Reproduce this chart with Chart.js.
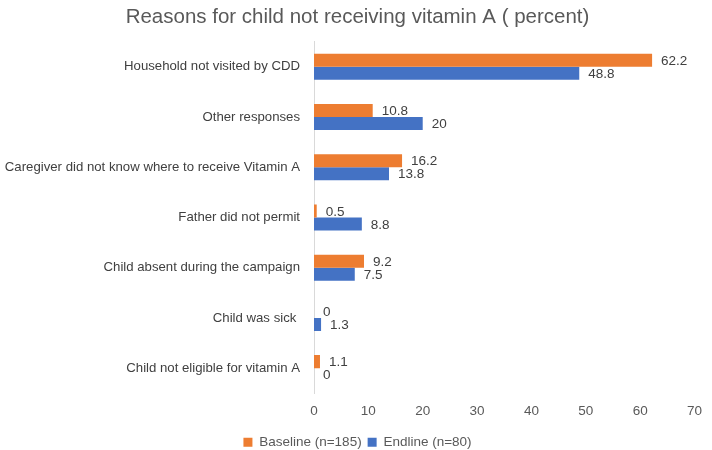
<!DOCTYPE html>
<html>
<head>
<meta charset="utf-8">
<script src="https://cdn.jsdelivr.net/npm/chart.js@4/dist/chart.umd.min.js"></script>
<style>
  html, body { margin: 0; padding: 0; background: #fff; }
  #wrap { width: 712px; height: 450px; }
</style>
</head>
<body>
<div id="wrap"><canvas id="chart"></canvas></div>
<script>
const categories = [
  "Household not visited by CDD",
  "Other responses",
  "Caregiver did not know where to receive Vitamin A",
  "Father did not permit",
  "Child absent during the campaign",
  "Child was sick ",
  "Child not eligible for vitamin A"
];
const baseline = [62.2, 10.8, 16.2, 0.5, 9.2, 0, 1.1];
const endline = [48.8, 20, 13.8, 8.8, 7.5, 1.3, 0];
const xTicks = [0, 10, 20, 30, 40, 50, 60, 70];

const fontFamily = "'Liberation Sans', Arial, sans-serif";

// draws the value next to the end of each bar
const barLabels = {
  id: "barLabels",
  afterDatasetsDraw(chart) {
    const ctx = chart.ctx;
    ctx.save();
    ctx.font = "13.5px " + fontFamily;
    ctx.fillStyle = "#404040";
    ctx.textAlign = "left";
    ctx.textBaseline = "middle";
    chart.data.datasets.forEach((ds, i) => {
      const meta = chart.getDatasetMeta(i);
      meta.data.forEach((bar, j) => {
        ctx.fillText(String(ds.data[j]), bar.x + 9, bar.y + 1);
      });
    });
    ctx.restore();
  }
};

const ctx = document.getElementById("chart").getContext("2d");
new Chart(ctx, {
  type: "bar",
  data: {
    labels: categories,
    datasets: [
      {
        label: "Baseline (n=185)",
        data: baseline,
        backgroundColor: "#ED7D31"
      },
      {
        label: "Endline (n=80)",
        data: endline,
        backgroundColor: "#4472C4"
      }
    ]
  },
  options: {
    indexAxis: "y",
    responsive: true,
    maintainAspectRatio: false,
    animation: false,
    datasets: {
      bar: { categoryPercentage: 0.52, barPercentage: 1.0 }
    },
    layout: { padding: { left: 0, right: -3, top: 5, bottom: -9 } },
    scales: {
      x: {
        min: 0,
        max: 70,
        afterBuildTicks(scale) {
          scale.ticks = xTicks.map(v => ({ value: v }));
        },
        grid: { display: false, drawTicks: false },
        border: { display: false },
        ticks: {
          color: "#595959",
          font: { family: fontFamily, size: 13.5 },
          padding: 10
        }
      },
      y: {
        grid: { display: false, drawTicks: false },
        border: { display: true, color: "#d9d9d9", width: 1 },
        afterFit(scale) {
          scale.width = 314;
        },
        ticks: {
          color: "#404040",
          font: { family: fontFamily, size: 13.2 },
          padding: 14
        }
      }
    },
    plugins: {
      title: {
        display: true,
        text: "Reasons for child not receiving vitamin A ( percent)",
        color: "#595959",
        font: { family: fontFamily, size: 20.5, weight: "normal" },
        padding: { top: 0, bottom: 12 }
      },
      legend: {
        position: "bottom",
        labels: {
          color: "#595959",
          font: { family: fontFamily, size: 13.5 },
          boxWidth: 9,
          boxHeight: 9,
          padding: 6
        }
      },
      tooltip: { enabled: false }
    }
  },
  plugins: [barLabels]
});
</script>
</body>
</html>
